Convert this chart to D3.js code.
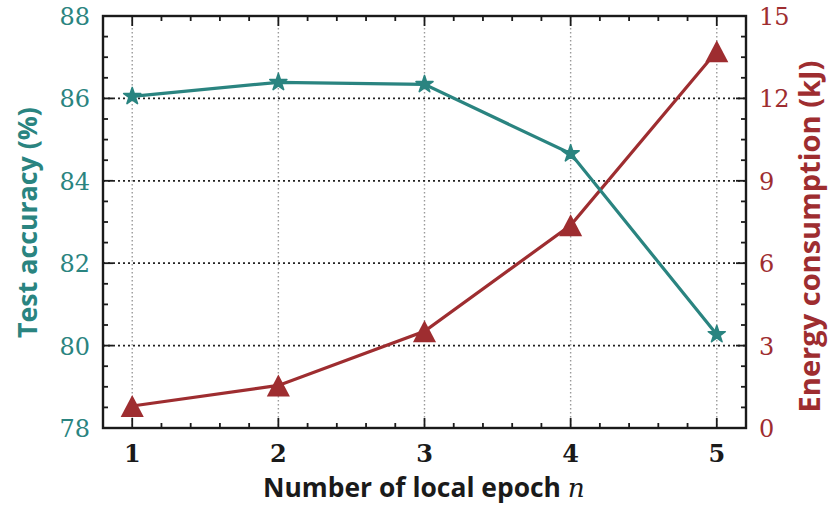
<!DOCTYPE html>
<html>
<head>
<meta charset="utf-8">
<script src="https://cdn.jsdelivr.net/npm/d3@7/dist/d3.min.js"></script>
<style>
  html, body { margin: 0; padding: 0; background: #fff; }
  svg { display: block; }
</style>
</head>
<body>
<svg id="chart" width="828" height="506"></svg>
<script>
// Local epochs on the x axis
const epochs = [1, 2, 3, 4, 5];
// Test accuracy (%) per epoch setting
const accuracy = [86.05, 86.39, 86.34, 84.66, 80.27];
// Energy consumption (kJ) per epoch setting
const energy = [0.8, 1.55, 3.52, 7.38, 13.72];
// Tick labels
const accTicks = [78, 80, 82, 84, 86, 88];
const energyTicks = [0, 3, 6, 9, 12, 15];

const teal = "#2a8480";
const red = "#9e2d30";
const serif = "'DejaVu Serif', serif";
const sans = "'Open Sans', 'DejaVu Sans', sans-serif";

const W = 828, H = 506;
const m = { left: 103, right: 82, top: 16, bottom: 78 };
const pw = W - m.left - m.right, ph = H - m.top - m.bottom;

const svg = d3.select("#chart");
const g = svg.append("g").attr("transform", `translate(${m.left},${m.top})`);

const x = d3.scaleLinear().domain([0.8, 5.2]).range([0, pw]);
const yL = d3.scaleLinear().domain([78, 88]).range([ph, 0]);
const yR = d3.scaleLinear().domain([0, 15]).range([ph, 0]);

// Vertical grid (light grey dots)
g.append("g").selectAll("line").data(epochs).join("line")
  .attr("x1", d => x(d)).attr("x2", d => x(d))
  .attr("y1", 0).attr("y2", ph)
  .attr("stroke", "#9a9a9a").attr("stroke-width", 1.4)
  .attr("stroke-dasharray", "1.5,2.5");

// Horizontal grid (black dots) at interior accuracy ticks
g.append("g").selectAll("line").data(accTicks.slice(1, -1)).join("line")
  .attr("x1", 0).attr("x2", pw)
  .attr("y1", d => yL(d)).attr("y2", d => yL(d))
  .attr("stroke", "#222").attr("stroke-width", 1.8)
  .attr("stroke-dasharray", "2,3");

// Ticks (all pointing inward)
const major = 10, minor = 5;
const tk = g.append("g").attr("stroke", "#1a1a1a").attr("stroke-width", 1.8);
d3.range(0.8, 5.21, 0.2).forEach(v => {
  const len = Math.abs(v - Math.round(v)) < 1e-6 ? major : minor;
  tk.append("line").attr("x1", x(v)).attr("x2", x(v)).attr("y1", ph).attr("y2", ph - len);
  tk.append("line").attr("x1", x(v)).attr("x2", x(v)).attr("y1", 0).attr("y2", len);
});
d3.range(78, 88.01, 0.5).forEach(v => {
  const len = (Math.abs(v % 2) < 1e-6) ? major : minor;
  tk.append("line").attr("x1", 0).attr("x2", len).attr("y1", yL(v)).attr("y2", yL(v));
});
d3.range(0, 15.01, 0.75).forEach(v => {
  const len = (Math.abs(v % 3) < 1e-6) ? major : minor;
  tk.append("line").attr("x1", pw).attr("x2", pw - len).attr("y1", yR(v)).attr("y2", yR(v));
});

// Frame
g.append("rect").attr("x", 0).attr("y", 0).attr("width", pw).attr("height", ph)
  .attr("fill", "none").attr("stroke", "#1a1a1a").attr("stroke-width", 2.4);

// Tick labels
g.append("g").selectAll("text").data(epochs).join("text")
  .attr("x", d => x(d)).attr("y", ph + 34)
  .attr("text-anchor", "middle").attr("font-family", serif).attr("font-size", 24)
  .attr("font-weight", "bold")
  .attr("fill", "#1a1a1a").text(d => d);
g.append("g").selectAll("text").data(accTicks).join("text")
  .attr("x", -13).attr("y", d => yL(d) + 9)
  .attr("text-anchor", "end").attr("font-family", serif).attr("font-size", 24)
  .attr("fill", teal).text(d => d);
g.append("g").selectAll("text").data(energyTicks).join("text")
  .attr("x", pw + 13).attr("y", d => yR(d) + 9)
  .attr("text-anchor", "start").attr("font-family", serif).attr("font-size", 24)
  .attr("fill", red).text(d => d);

// Scale a title's font so that it spans the wanted length
function fitFont(sel, target) {
  const base = 24;
  sel.attr("font-size", base);
  const len = sel.node().getComputedTextLength();
  sel.attr("font-size", base * target / len);
}

// Axis titles
const xt = svg.append("text").attr("x", 263).attr("y", 497)
  .attr("font-family", sans).attr("font-weight", "bold").attr("fill", "#1a1a1a");
xt.append("tspan").text("Number of local epoch ");
xt.append("tspan").attr("font-family", serif).attr("font-style", "italic").attr("font-weight", "normal").text("n");
fitFont(xt, 322);

const yt = svg.append("text").attr("transform", `translate(37,${(107 + 338) / 2}) rotate(-90)`)
  .attr("text-anchor", "middle").attr("font-family", sans)
  .attr("font-weight", "bold").attr("fill", teal).text("Test accuracy (%)");
fitFont(yt, 231);
const rt = svg.append("text").attr("transform", `translate(820,${(55 + 418) / 2}) rotate(-90)`)
  .attr("text-anchor", "middle").attr("font-family", sans)
  .attr("font-weight", "bold").attr("fill", red).text("Energy consumption (kJ)");
fitFont(rt, 352);

// Series lines
const accPts = epochs.map((e, i) => [e, accuracy[i]]);
const enPts = epochs.map((e, i) => [e, energy[i]]);
g.append("path").datum(enPts)
  .attr("d", d3.line().x(d => x(d[0])).y(d => yR(d[1])))
  .attr("fill", "none").attr("stroke", red).attr("stroke-width", 3.2);
g.append("path").datum(accPts)
  .attr("d", d3.line().x(d => x(d[0])).y(d => yL(d[1])))
  .attr("fill", "none").attr("stroke", teal).attr("stroke-width", 3.2);

// Triangle marker centred at mid-height
const triUp = {
  draw(ctx, size) {
    const h = Math.sqrt(size) / 2;
    ctx.moveTo(0, -h);
    ctx.lineTo(h * 1.05, h);
    ctx.lineTo(-h * 1.05, h);
    ctx.closePath();
  }
};
g.append("g").selectAll("path").data(enPts).join("path")
  .attr("transform", d => `translate(${x(d[0])},${yR(d[1])})`)
  .attr("d", d3.symbol().type(triUp).size(484))
  .attr("fill", red);
g.append("g").selectAll("path").data(accPts).join("path")
  .attr("transform", d => `translate(${x(d[0])},${yL(d[1])})`)
  .attr("d", d3.symbol().type(d3.symbolStar).size(90))
  .attr("fill", teal).attr("stroke", teal).attr("stroke-width", 1.6).attr("stroke-linejoin", "round");
</script>
</body>
</html>
